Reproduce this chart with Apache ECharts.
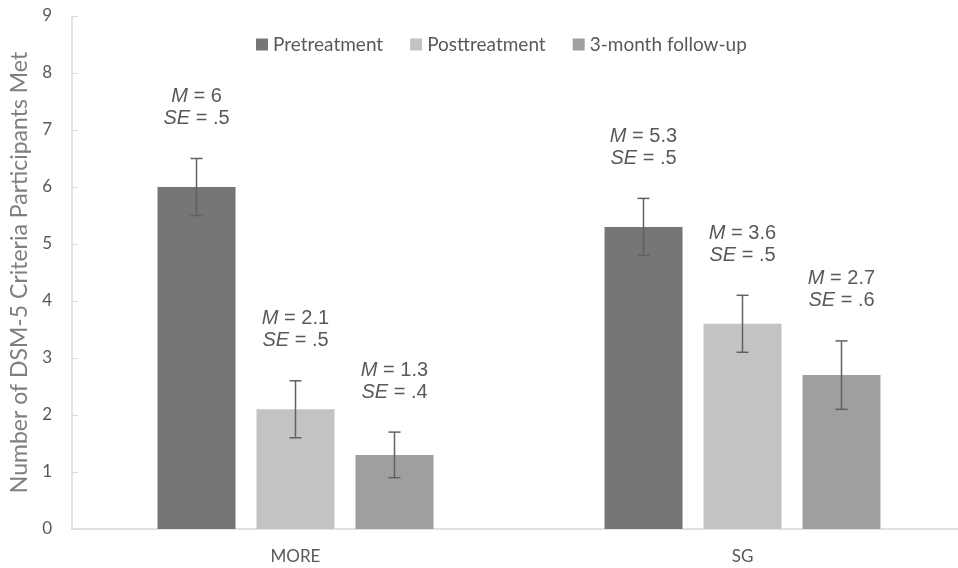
<!DOCTYPE html>
<html>
<head>
<meta charset="utf-8">
<script src="https://cdn.jsdelivr.net/npm/echarts@6/dist/echarts.min.js"></script>
<style>
  html, body { margin: 0; padding: 0; background: #fff; }
  #chart { width: 958px; height: 568px; }
</style>
</head>
<body>
<div id="chart"></div>
<script>
// DSM-5 criteria met, by group and time point (mean ± SE)
const groups = ['MORE', 'SG']
const seriesNames = ['Pretreatment', 'Posttreatment', '3-month follow-up']
const means = [
  [6, 5.3],
  [2.1, 3.6],
  [1.3, 2.7],
]
const ses = [
  [0.5, 0.5],
  [0.5, 0.5],
  [0.4, 0.6],
]
const meanText = [
  ['6', '5.3'],
  ['2.1', '3.6'],
  ['1.3', '2.7'],
]
const seText = [
  ['.5', '.5'],
  ['.5', '.5'],
  ['.4', '.6'],
]
const colors = ['#767676', '#c3c3c3', '#9f9f9f']
const yTicks = [0, 1, 2, 3, 4, 5, 6, 7, 8, 9]

const BAR_W = 78
const BAR_GAP = 21
const textColor = '#595959'
const uiFont = 'Lato, "Open Sans", sans-serif'

const chart = echarts.init(document.getElementById('chart'))

// 误差线 + M/SE 标注，用 custom series 画，位置全部走坐标轴换算
function errorSeries(si) {
  return {
    type: 'custom',
    name: seriesNames[si] + '-err',
    z: 5,
    data: groups.map((g, gi) => [gi, means[si][gi], ses[si][gi]]),
    renderItem(params, api) {
      const gi = api.value(0)
      const m = api.value(1)
      const se = api.value(2)
      const off = (si - 1) * (BAR_W + BAR_GAP)
      const hi = api.coord([gi, m + se])
      const lo = api.coord([gi, m - se])
      const x = hi[0] + off
      const cap = 6
      const st = { stroke: '#616161', lineWidth: 1.5 }
      return {
        type: 'group',
        children: [
          { type: 'line', shape: { x1: x, y1: hi[1], x2: x, y2: lo[1] }, style: st },
          { type: 'line', shape: { x1: x - cap, y1: hi[1], x2: x + cap, y2: hi[1] }, style: st },
          { type: 'line', shape: { x1: x - cap, y1: lo[1], x2: x + cap, y2: lo[1] }, style: st },
          {
            type: 'text',
            x: x,
            y: hi[1] - 29,
            style: {
              text: '{i|M} = ' + meanText[si][gi] + '\n{i|SE} = ' + seText[si][gi],
              align: 'center',
              verticalAlign: 'bottom',
              fill: textColor,
              font: '20px "Liberation Sans", Arial, sans-serif',
              lineHeight: 22,
              rich: {
                i: { fontStyle: 'italic', fontSize: 20, fontFamily: 'Liberation Sans', fill: textColor, lineHeight: 22 },
              },
            },
          },
        ],
      }
    },
  }
}

const option = {
  animation: false,
  backgroundColor: '#fff',
  textStyle: { fontFamily: uiFont },
  legend: {
    top: 30,
    left: 251,
    itemWidth: 12,
    itemHeight: 12,
    itemGap: 27,
    icon: 'rect',
    data: seriesNames,
    textStyle: { color: textColor, fontSize: 19, fontFamily: uiFont },
  },
  grid: { left: 72, right: -8, top: 16, bottom: 39, outerBoundsMode: 'none', containLabel: false },
  xAxis: {
    type: 'category',
    data: groups,
    axisLine: { lineStyle: { color: '#d9d9d9', width: 1.5 } },
    axisTick: { show: false },
    axisLabel: { color: textColor, fontSize: 17, margin: 19 },
  },
  yAxis: {
    type: 'value',
    min: 0,
    max: 9,
    interval: 1,
    name: 'Number of DSM-5 Criteria Participants Met',
    nameLocation: 'middle',
    nameGap: 40,
    nameTextStyle: { color: '#7f7f7f', fontSize: 23, fontFamily: uiFont },
    axisLine: { show: true, lineStyle: { color: '#d9d9d9', width: 1.5 } },
    axisTick: { show: true, inside: true, length: 6, lineStyle: { color: '#d9d9d9' } },
    axisLabel: { color: textColor, fontSize: 17, margin: 20, formatter: (v) => (yTicks.includes(v) ? String(v) : '') },
    splitLine: { show: false },
  },
  series: [
    ...seriesNames.map((name, si) => ({
      type: 'bar',
      name: name,
      data: means[si],
      barWidth: BAR_W,
      barGap: (BAR_GAP / BAR_W * 100).toFixed(1) + '%',
      itemStyle: { color: colors[si] },
    })),
    ...seriesNames.map((_, si) => errorSeries(si)),
  ],
}

chart.setOption(option)
</script>
</body>
</html>
